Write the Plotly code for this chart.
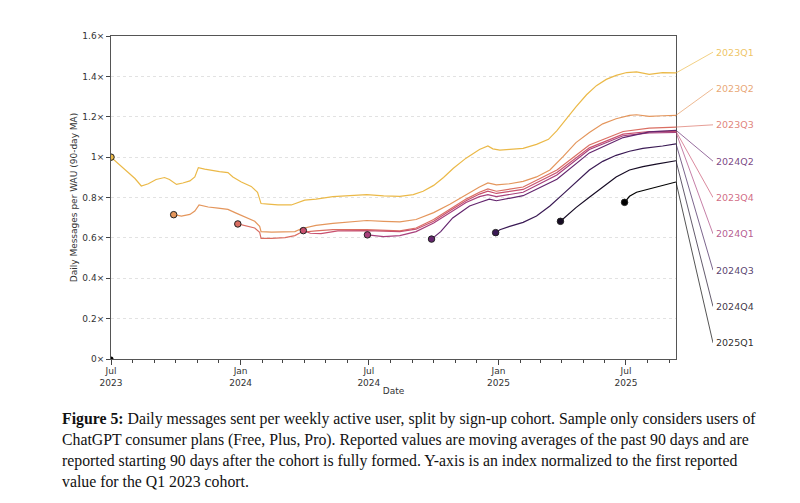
import plotly.graph_objects as go

# ---------------- data ----------------
cohorts = ["2023Q1", "2023Q2", "2023Q3", "2023Q4", "2024Q1",
           "2024Q2", "2024Q3", "2024Q4", "2025Q1"]

dates_2023Q1 = ["2023-07-01", "2023-07-08", "2023-07-18", "2023-07-25", "2023-08-04",
                "2023-08-13", "2023-08-23", "2023-09-03", "2023-09-15", "2023-09-22",
                "2023-10-02", "2023-10-11", "2023-10-21", "2023-10-28", "2023-11-02",
                "2023-11-11", "2023-11-21", "2023-12-02", "2023-12-14", "2023-12-21",
                "2024-01-02", "2024-01-16", "2024-01-25", "2024-01-30", "2024-02-09",
                "2024-02-23", "2024-03-13", "2024-03-22", "2024-04-01", "2024-04-17",
                "2024-05-11", "2024-06-04", "2024-06-28", "2024-07-22", "2024-08-14",
                "2024-09-02", "2024-09-16", "2024-10-01", "2024-10-15", "2024-10-29",
                "2024-11-16", "2024-12-05", "2024-12-17", "2024-12-24", "2025-01-03",
                "2025-01-17", "2025-02-05", "2025-02-24", "2025-03-13", "2025-03-25",
                "2025-04-07", "2025-04-21", "2025-05-06", "2025-05-20", "2025-06-03",
                "2025-06-17", "2025-07-02", "2025-07-16", "2025-08-03", "2025-08-22",
                "2025-09-10"]
vals_2023Q1 = [1.000, 0.979, 0.945, 0.928, 0.894,
               0.857, 0.868, 0.889, 0.899, 0.889,
               0.865, 0.872, 0.882, 0.902, 0.948,
               0.941, 0.933, 0.928, 0.923, 0.902,
               0.877, 0.855, 0.826, 0.770, 0.767,
               0.763, 0.763, 0.775, 0.787, 0.792,
               0.804, 0.809, 0.814, 0.808, 0.806,
               0.814, 0.831, 0.860, 0.899, 0.945,
               0.995, 1.038, 1.055, 1.041, 1.035,
               1.038, 1.043, 1.063, 1.088, 1.131,
               1.190, 1.249, 1.309, 1.354, 1.385,
               1.405, 1.419, 1.422, 1.410, 1.419,
               1.417]

dates_2023Q2 = ["2023-09-28", "2023-10-09", "2023-10-21", "2023-10-28", "2023-11-03",
                "2023-11-16", "2023-11-30", "2023-12-14", "2023-12-24", "2024-01-07",
                "2024-01-21", "2024-01-28", "2024-01-30", "2024-02-14", "2024-03-04",
                "2024-03-18", "2024-03-27", "2024-04-17", "2024-05-11", "2024-06-04",
                "2024-06-28", "2024-07-22", "2024-08-14", "2024-09-06", "2024-10-01",
                "2024-10-24", "2024-11-16", "2024-12-05", "2024-12-17", "2024-12-29",
                "2025-01-17", "2025-02-05", "2025-02-24", "2025-03-15", "2025-04-03",
                "2025-04-21", "2025-05-10", "2025-05-29", "2025-06-17", "2025-07-06",
                "2025-07-16", "2025-08-03", "2025-08-22", "2025-09-10"]
vals_2023Q2 = [0.715, 0.708, 0.716, 0.733, 0.763,
               0.753, 0.747, 0.741, 0.725, 0.702,
               0.682, 0.657, 0.631, 0.628, 0.628,
               0.631, 0.645, 0.662, 0.672, 0.679,
               0.686, 0.682, 0.679, 0.691, 0.725,
               0.767, 0.814, 0.852, 0.872, 0.863,
               0.868, 0.880, 0.902, 0.936, 1.004,
               1.072, 1.122, 1.165, 1.190, 1.207,
               1.210, 1.202, 1.205, 1.207]

dates_2023Q3 = ["2023-12-28", "2024-01-07", "2024-01-21", "2024-01-28", "2024-01-30",
                "2024-02-14", "2024-03-04", "2024-03-18", "2024-03-27", "2024-04-17",
                "2024-05-11", "2024-06-28", "2024-08-14", "2024-09-06", "2024-10-01",
                "2024-10-24", "2024-11-16", "2024-12-05", "2024-12-17", "2024-12-29",
                "2025-02-05", "2025-03-25", "2025-05-10", "2025-06-27", "2025-08-03",
                "2025-09-10"]
vals_2023Q3 = [0.669, 0.660, 0.649, 0.628, 0.598,
               0.598, 0.601, 0.611, 0.628, 0.635,
               0.641, 0.641, 0.635, 0.649, 0.691,
               0.742, 0.792, 0.826, 0.843, 0.831,
               0.852, 0.936, 1.060, 1.127, 1.144,
               1.149]

dates_2023Q4 = ["2024-03-30", "2024-04-09", "2024-04-24", "2024-05-18", "2024-06-28",
                "2024-08-14", "2024-09-06", "2024-10-01", "2024-10-24", "2024-11-16",
                "2024-12-05", "2024-12-17", "2024-12-29", "2025-02-05", "2025-03-25",
                "2025-05-10", "2025-06-27", "2025-08-03", "2025-09-10"]
vals_2023Q4 = [0.636, 0.623, 0.621, 0.635, 0.636,
               0.631, 0.643, 0.682, 0.734, 0.784,
               0.817, 0.831, 0.820, 0.840, 0.924,
               1.046, 1.114, 1.127, 1.128]

dates_2024Q1 = ["2024-06-29", "2024-07-22", "2024-08-14", "2024-09-06", "2024-10-01",
                "2024-10-24", "2024-11-16", "2024-12-05", "2024-12-17", "2024-12-29",
                "2025-02-05", "2025-03-25", "2025-05-10", "2025-06-27", "2025-08-03",
                "2025-09-10"]
vals_2024Q1 = [0.615, 0.606, 0.611, 0.631, 0.674,
               0.725, 0.775, 0.804, 0.814, 0.804,
               0.826, 0.911, 1.038, 1.106, 1.120,
               1.122]

dates_2024Q2 = ["2024-09-28", "2024-10-11", "2024-10-28", "2024-11-21", "2024-12-05",
                "2024-12-19", "2024-12-29", "2025-02-05", "2025-03-25", "2025-05-10",
                "2025-06-27", "2025-08-03", "2025-09-10"]
vals_2024Q2 = [0.594, 0.631, 0.699, 0.758, 0.775,
               0.792, 0.784, 0.809, 0.890, 1.021,
               1.097, 1.125, 1.133]

dates_2024Q3 = ["2024-12-28", "2025-01-03", "2025-01-17", "2025-02-05", "2025-02-24",
                "2025-03-15", "2025-04-03", "2025-04-21", "2025-05-10", "2025-05-29",
                "2025-06-17", "2025-07-06", "2025-07-25", "2025-08-22", "2025-09-10"]
vals_2024Q3 = [0.626, 0.640, 0.657, 0.677, 0.708,
               0.758, 0.818, 0.877, 0.936, 0.979,
               1.009, 1.029, 1.043, 1.055, 1.066]

dates_2024Q4 = ["2025-03-30", "2025-04-07", "2025-04-21", "2025-05-10", "2025-05-29",
                "2025-06-17", "2025-07-06", "2025-07-25", "2025-08-13", "2025-09-10"]
vals_2024Q4 = [0.682, 0.708, 0.750, 0.801, 0.852,
               0.902, 0.936, 0.953, 0.965, 0.982]

dates_2025Q1 = ["2025-06-29", "2025-07-06", "2025-07-16", "2025-08-03", "2025-08-22",
                "2025-09-10"]
vals_2025Q1 = [0.776, 0.806, 0.826, 0.843, 0.860, 0.877]

# small stray marker at the origin in the reference
origin_dates = ["2023-07-01"]
origin_vals = [0.0]

# order of labels on the right (top to bottom)
label_order = ["2023Q1", "2023Q2", "2023Q3", "2024Q2", "2023Q4",
               "2024Q1", "2024Q3", "2024Q4", "2025Q1"]

y_ticks = [0, 0.2, 0.4, 0.6, 0.8, 1.0, 1.2, 1.4, 1.6]
x_tickvals = ["2023-07-01", "2024-01-01", "2024-07-01", "2025-01-01", "2025-07-01"]
x_ticktext = ["Jul<br>2023", "Jan<br>2024", "Jul<br>2024", "Jan<br>2025", "Jul<br>2025"]

caption_lines = [
    "<b>Figure 5:</b> Daily messages sent per weekly active user, split by sign-up cohort. Sample only considers users of",
    "ChatGPT consumer plans (Free, Plus, Pro). Reported values are moving averages of the past 90 days and are",
    "reported starting 90 days after the cohort is fully formed. Y-axis is an index normalized to the first reported",
    "value for the Q1 2023 cohort.",
]

# ---------------- styling ----------------
series = {
    "2023Q1": (dates_2023Q1, vals_2023Q1),
    "2023Q2": (dates_2023Q2, vals_2023Q2),
    "2023Q3": (dates_2023Q3, vals_2023Q3),
    "2023Q4": (dates_2023Q4, vals_2023Q4),
    "2024Q1": (dates_2024Q1, vals_2024Q1),
    "2024Q2": (dates_2024Q2, vals_2024Q2),
    "2024Q3": (dates_2024Q3, vals_2024Q3),
    "2024Q4": (dates_2024Q4, vals_2024Q4),
    "2025Q1": (dates_2025Q1, vals_2025Q1),
}
colors = {
    "2023Q1": (235, 185, 72),
    "2023Q2": (228, 150, 92),
    "2023Q3": (218, 110, 98),
    "2023Q4": (200, 80, 110),
    "2024Q1": (168, 64, 124),
    "2024Q2": (100, 38, 110),
    "2024Q3": (58, 26, 84),
    "2024Q4": (22, 11, 36),
    "2025Q1": (0, 0, 0),
}


def rgba(c, a=1.0):
    return f"rgba({c[0]},{c[1]},{c[2]},{a})"


OFF = 8                     # browser body margin
W, H = 800 - OFF, 503 - OFF
ML, MR, MT, MB = 111 - OFF, 12, 36 - OFF, 152 - OFF
PW = W - ML - MR
PH = H - MT - MB
AX_RIGHT = 676 - OFF        # right spine (px in figure)
LABEL_X = 713 - OFF         # connector end / label start
d_main = (AX_RIGHT - ML) / PW
d_conn = (LABEL_X - ML) / PW

Y_MAX = 1.6
label_top, label_step = 1.52, 0.18

fig = go.Figure()

for c in cohorts:
    d, v = series[c]
    col = colors[c]
    fig.add_trace(go.Scatter(
        x=d, y=v, mode="lines", line=dict(color=rgba(col), width=1.2),
        showlegend=False, hoverinfo="skip", xaxis="x", yaxis="y"))

for c in cohorts:
    d, v = series[c]
    col = colors[c]
    fig.add_trace(go.Scatter(
        x=[d[0]], y=[v[0]], mode="markers",
        marker=dict(size=6.5, color=rgba(col), line=dict(color="#222", width=1)),
        showlegend=False, hoverinfo="skip", cliponaxis=True))

fig.add_trace(go.Scatter(x=origin_dates, y=origin_vals, mode="markers",
                         marker=dict(size=5, color="#000"), showlegend=False,
                         hoverinfo="skip", cliponaxis=True))

# connectors + labels on the right
for i, c in enumerate(label_order):
    d, v = series[c]
    col = colors[c]
    ly = label_top - i * label_step
    fig.add_trace(go.Scatter(
        x=[0, 1], y=[v[-1], ly], mode="lines", xaxis="x2", yaxis="y2",
        line=dict(color=rgba(col, 0.75), width=0.9), showlegend=False,
        hoverinfo="skip"))
    fig.add_annotation(x=1, y=ly, xref="x2", yref="y2", text=c, showarrow=False,
                       xanchor="left", yanchor="middle", xshift=1,
                       font=dict(family="DejaVu Sans", size=9.5, color=rgba(col, 0.85)))

tick_font = dict(family="DejaVu Sans", size=9, color="#333")

fig.update_layout(
    width=W, height=H,
    margin=dict(l=ML, r=MR, t=MT, b=MB, pad=0),
    paper_bgcolor="white", plot_bgcolor="white",
    xaxis=dict(
        domain=[0, d_main], type="date",
        range=["2023-07-01", "2025-09-10"],
        tickmode="array", tickvals=x_tickvals, ticktext=x_ticktext,
        ticks="outside", ticklen=5, tickwidth=1, tickcolor="#444",
        ticklabelstandoff=-2,
        showline=True, linecolor="#555", linewidth=1, mirror=True,
        showgrid=False, zeroline=False, tickfont=tick_font,
        title=dict(text="Date", font=dict(family="DejaVu Sans", size=9, color="#333"),
                   standoff=1),
        minor=dict(ticks="outside", ticklen=3, tickwidth=1, tickcolor="#444",
                   dtick="M1", tick0="2023-07-01", showgrid=False),
    ),
    yaxis=dict(
        range=[0, Y_MAX], tickmode="array", tickvals=y_ticks,
        ticktext=[f"{t:g}×" for t in y_ticks],
        ticks="outside", ticklen=4, tickwidth=1, tickcolor="#444",
        showline=True, linecolor="#555", linewidth=1, mirror=True,
        showgrid=True, gridcolor="#e2e2e2", gridwidth=0.8, griddash="dot",
        zeroline=False, tickfont=tick_font,
        title=dict(text="Daily Messages per WAU (90-day MA)",
                   font=dict(family="DejaVu Sans", size=9, color="#333"), standoff=3),
    ),
    xaxis2=dict(domain=[d_main, d_conn], range=[0, 1], visible=False, anchor="y2"),
    yaxis2=dict(range=[0, Y_MAX], visible=False, anchor="x2"),
)

# caption (pixel positions in the page, converted to paper coords)
cap_y = [419, 440, 461, 481]
for txt, py in zip(caption_lines, cap_y):
    fig.add_annotation(
        x=(60 - OFF - ML) / PW, y=(H - MB - (py - OFF)) / PH, xref="paper", yref="paper",
        text=txt, showarrow=False, xanchor="left", yanchor="middle",
        font=dict(family="Liberation Serif", size=15.8, color="#111"))

fig.write_html("out.html")
